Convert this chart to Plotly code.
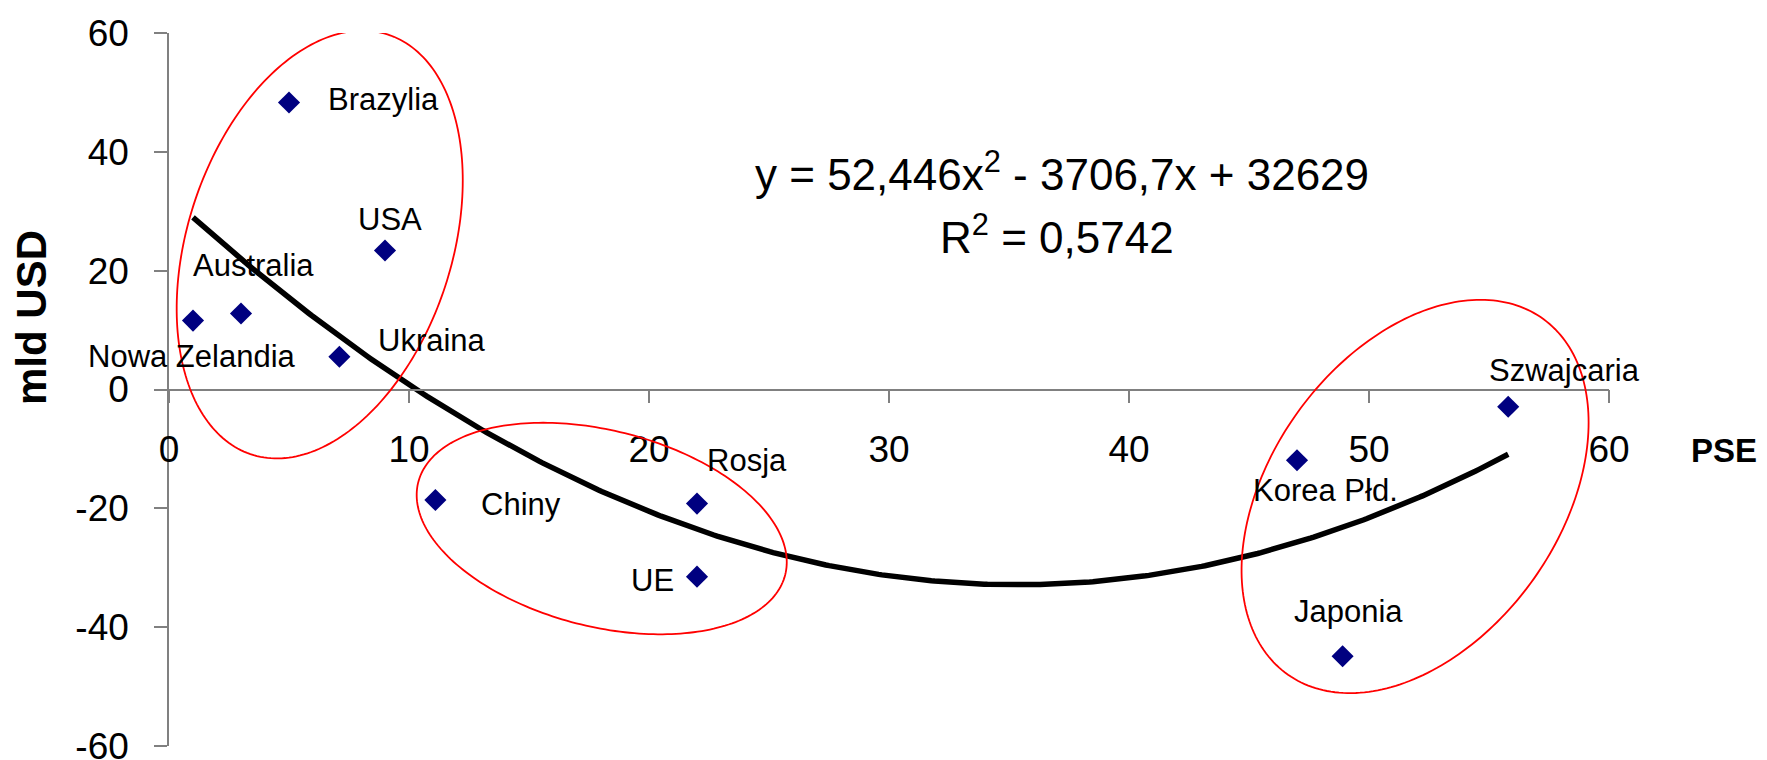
import numpy as np
import plotly.graph_objects as go

# ---- data ----
countries = ["Nowa Zelandia", "Australia", "Brazylia", "Ukraina", "USA",
             "Chiny", "Rosja", "UE", "Korea Płd.", "Japonia", "Szwajcaria"]
pse = [1, 3, 5, 7.1, 9, 11.1, 22, 22, 47, 48.9, 55.8]
mld_usd = [11.6, 12.8, 48.3, 5.5, 23.4, -18.6, -19.2, -31.5, -11.9, -44.9, -2.9]

x_tickvals = [0, 10, 20, 30, 40, 50, 60]
x_ticktext = ["0", "10", "20", "30", "40", "50", "60"]
y_tickvals = [-60, -40, -20, 0, 20, 40, 60]
y_ticktext = ["-60", "-40", "-20", "0", "20", "40", "60"]

# trend line coefficients as printed on the chart (values in mln USD -> /1000 for mld)
coef_a, coef_b, coef_c = 52.446, -3706.7, 32629
r2_text = "0,5742"

# label offsets (pixels) relative to each point
label_dx = [-1, 12, 94, 93, 5, 86, 50, -45, 28, 6, 56]
label_dy = [-36, 48, 3, 16, 31, -4, 43, -4, -30, 45, 36]

# ---- layout geometry (page body has an 8px default margin) ----
OFF = 8
W, H = 1767 - OFF, 760 - OFF
# plot area in page pixels: x 169..1609, y 33..746
ML, MR, MT, MB = 169 - OFF, W - (1609 - OFF), 33 - OFF, H - (746 - OFF)
PW, PH = W - ML - MR, H - MT - MB

def px2paper(px, py):
    """page pixel -> paper fraction"""
    return (px - OFF - ML) / PW, (H - MB - (py - OFF)) / PH

FONT = "Liberation Sans, Arial, sans-serif"

fig = go.Figure()

# trend line
xt = np.linspace(min(pse), max(pse), 400)
yt = (coef_a * xt ** 2 + coef_b * xt + coef_c) / 1000.0
fig.add_trace(go.Scatter(x=xt, y=yt, mode="lines",
                         line=dict(color="black", width=5.5),
                         hoverinfo="skip", showlegend=False))

# points
fig.add_trace(go.Scatter(x=pse, y=mld_usd, mode="markers",
                         marker=dict(symbol="diamond", size=17, color="#000080",
                                     line=dict(width=0)),
                         text=countries, showlegend=False))

# labels
for name, x, y, dx, dy in zip(countries, pse, mld_usd, label_dx, label_dy):
    fig.add_annotation(x=x, y=y, text=name, showarrow=False,
                       xshift=dx, yshift=dy,
                       font=dict(family=FONT, size=31, color="black"))

# red ellipses (center x, center y, half-width, half-height, correlation) in data units
ellipses = [
    (6.28, 24.4, 5.96, 36.0, 0.30),
    (18.03, -23.4, 7.71, 17.8, -0.317),
    (51.92, -18.0, 7.23, 33.1, 0.376),
]
t = np.linspace(0, 2 * np.pi, 240)
for cx, cy, hx, hy, rho in ellipses:
    ex = cx + hx * np.cos(t)
    ey = cy + hy * (rho * np.cos(t) + np.sqrt(1 - rho ** 2) * np.sin(t))
    path = "M " + " L ".join(f"{a:.4f},{b:.4f}" for a, b in zip(ex, ey)) + " Z"
    fig.add_shape(type="path", path=path, xref="x", yref="y",
                  line=dict(color="#FF0000", width=1.8), layer="above")

# equation text
x1, y1 = px2paper(1062, 172)
fig.add_annotation(xref="paper", yref="paper", x=x1, y=y1, xanchor="center", yanchor="middle",
                   text="y = 52,446x<sup>2</sup> - 3706,7x + 32629", showarrow=False,
                   font=dict(family=FONT, size=44, color="black"))
x2, y2 = px2paper(1057, 234)
fig.add_annotation(xref="paper", yref="paper", x=x2, y=y2, xanchor="center", yanchor="middle",
                   text=f"R<sup>2</sup> = {r2_text}", showarrow=False,
                   font=dict(family=FONT, size=44, color="black"))

# axis titles
ax_, ay_ = px2paper(31, 318)
fig.add_annotation(xref="paper", yref="paper", x=ax_, y=ay_, text="<b>mld USD</b>",
                   textangle=-90, showarrow=False, xanchor="center", yanchor="middle",
                   font=dict(family=FONT, size=42, color="black"))
bx_, by_ = px2paper(1724, 450)
fig.add_annotation(xref="paper", yref="paper", x=bx_, y=by_, text="<b>PSE</b>",
                   showarrow=False, xanchor="center", yanchor="middle",
                   font=dict(family=FONT, size=33, color="black"))

fig.update_layout(
    width=W, height=H,
    margin=dict(l=ML, r=MR, t=MT, b=MB, pad=0, autoexpand=False),
    plot_bgcolor="white", paper_bgcolor="white",
    font=dict(family=FONT, color="black"),
    showlegend=False,
    xaxis=dict(range=[0, 60], tickvals=x_tickvals, ticktext=x_ticktext,
               showgrid=False, zeroline=False, automargin=False,
               showline=True, linecolor="#808080", linewidth=1.5,
               ticks="outside", ticklen=13, tickwidth=1.5, tickcolor="#808080",
               anchor="free", position=0.5, ticklabelstandoff=14,
               ticklabeloverflow="allow",
               tickfont=dict(family=FONT, size=37, color="black")),
    yaxis=dict(range=[-60, 60], tickvals=y_tickvals, ticktext=y_ticktext,
               showgrid=False, zeroline=False, automargin=False,
               showline=True, linecolor="#808080", linewidth=1.5,
               ticks="outside", ticklen=13, tickwidth=1.5, tickcolor="#808080",
               ticklabelstandoff=18, ticklabeloverflow="allow",
               tickfont=dict(family=FONT, size=37, color="black")),
)

fig.write_html("out.html")
